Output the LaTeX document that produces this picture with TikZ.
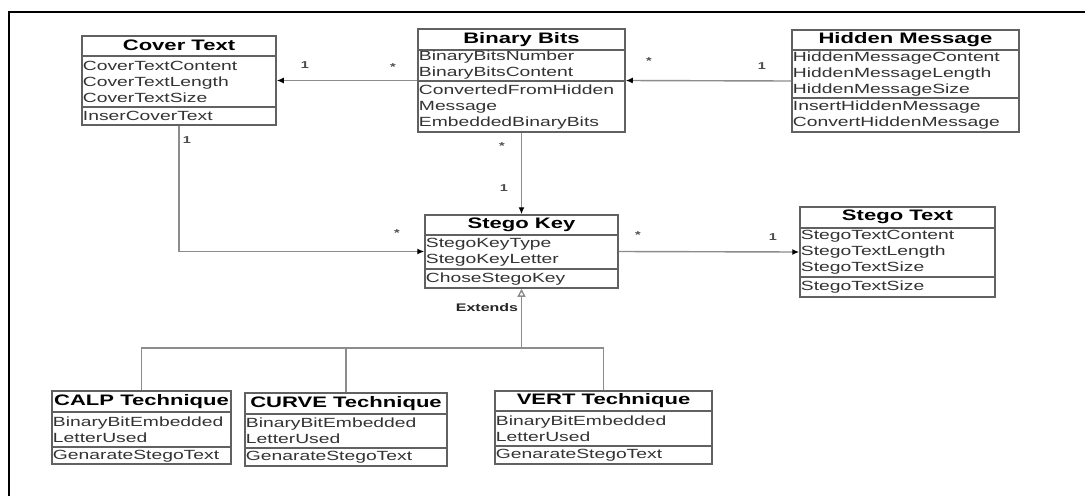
\documentclass[tikz,border=0pt]{standalone}
\usepackage{fontspec}
\setmainfont{Liberation Sans}[FakeStretch=1.45]
\usetikzlibrary{arrows.meta,fit}

\tikzset{
  boxline/.style={draw=black!62, line width=1.5pt},
  classbox/.style={boxline, inner sep=0pt, fill=white},
  classtitle/.style={font=\fontsize{15.2}{18}\selectfont\bfseries, text=black, inner sep=0pt},
  members/.style={font=\fontsize{13.3}{16}\selectfont, text=black!80, align=left,
                  anchor=west, inner xsep=1.5pt, inner ysep=0pt},
  assoc/.style={draw=black!45, line width=1.4pt, -{Latex[length=7pt,width=6pt,color=black]}},
  generalise/.style={draw=black!45, line width=1.4pt},
  mult/.style={font=\fontsize{10}{11}\selectfont\bfseries, text=black!70, inner sep=0pt},
  stereo/.style={font=\fontsize{11}{12}\selectfont\bfseries, text=black!85, inner sep=0pt},
}

% \umlclass{name}{x1,y1}{x2,y2}{title rule y}{attribute rule y}{title}{attributes}{operations}
\newcommand\umlclass[8]{%
  \coordinate (#1-nw) at (#2);
  \coordinate (#1-se) at (#3);
  \node[classbox, fit=(#1-nw)(#1-se)] (#1) {};
  \draw[boxline] (#1.west |- 0,#4) -- (#1.east |- 0,#4);
  \draw[boxline] (#1.west |- 0,#5) -- (#1.east |- 0,#5);
  \path (#1.north) -- (#1.center |- 0,#4) node[midway, classtitle] {#6};
  \path (#1.west |- 0,#4) -- (#1.west |- 0,#5) node[midway, members] {#7};
  \path (#1.west |- 0,#5) -- (#1.south west) node[midway, members] {#8};
}

\begin{document}
\begin{tikzpicture}[x=1pt, y=-1pt]
\useasboundingbox (0,0) rectangle (1085,496);
\fill[white] (0,0) rectangle (1085,496);

% page frame
\draw[line width=2.5pt] (9,496) -- (9,12) -- (1085,12);

% classes
\umlclass{cover}{82,36}{276,125}{56}{107}{Cover Text}
  {CoverTextContent\\CoverTextLength\\CoverTextSize}{InserCoverText}
\umlclass{bits}{418,29}{625,132}{50}{81}{Binary Bits}
  {BinaryBitsNumber\\BinaryBitsContent}{ConvertedFromHidden\\Message\\EmbeddedBinaryBits}
\umlclass{hidden}{792,30}{1019,132}{50}{98}{Hidden Message}
  {HiddenMessageContent\\HiddenMessageLength\\HiddenMessageSize}{InsertHiddenMessage\\ConvertHiddenMessage}
\umlclass{key}{425,215}{618,288}{235}{269}{Stego Key}
  {StegoKeyType\\StegoKeyLetter}{ChoseStegoKey}
\umlclass{stext}{800,207}{995,297}{228}{277}{Stego Text}
  {StegoTextContent\\StegoTextLength\\StegoTextSize}{StegoTextSize}
\umlclass{calp}{52,391}{231,464}{412}{447}{CALP Technique}
  {BinaryBitEmbedded\\LetterUsed}{GenarateStegoText}
\umlclass{curve}{245,393}{447,466}{414}{448}{CURVE Technique}
  {BinaryBitEmbedded\\LetterUsed}{GenarateStegoText}
\umlclass{vert}{495,391}{712,464}{411}{446}{VERT Technique}
  {BinaryBitEmbedded\\LetterUsed}{GenarateStegoText}

% associations
\draw[assoc] (hidden.west) -- (bits.east);
\draw[assoc] (bits.west) -- (cover.east);
\draw[assoc] (bits.south) -- (key.north);
\draw[assoc] (cover.south) |- (key.west);
\draw[assoc] (key.east) -- (stext.west);

% multiplicities
\node[mult] at (649,61) {*};
\node[mult] at (762,66) {1};
\node[mult] at (305,65) {1};
\node[mult] at (393,67) {*};
\node[mult] at (502,146) {*};
\node[mult] at (504,188) {1};
\node[mult] at (187,140) {1};
\node[mult] at (397,233) {*};
\node[mult] at (638,235) {*};
\node[mult] at (773,237) {1};

% generalisation
\coordinate (bus) at (key.south |- 0,348);
\draw[generalise] (calp.north) |- (vert.north |- bus) -- (vert.north);
\draw[generalise] (curve.north) -- (curve.north |- bus);
\draw[generalise, -{Triangle[open, fill=white, length=8pt, width=8pt]}] (bus) -- (key.south);
\node[stereo] at (487,308) {Extends};
\end{tikzpicture}
\end{document}
